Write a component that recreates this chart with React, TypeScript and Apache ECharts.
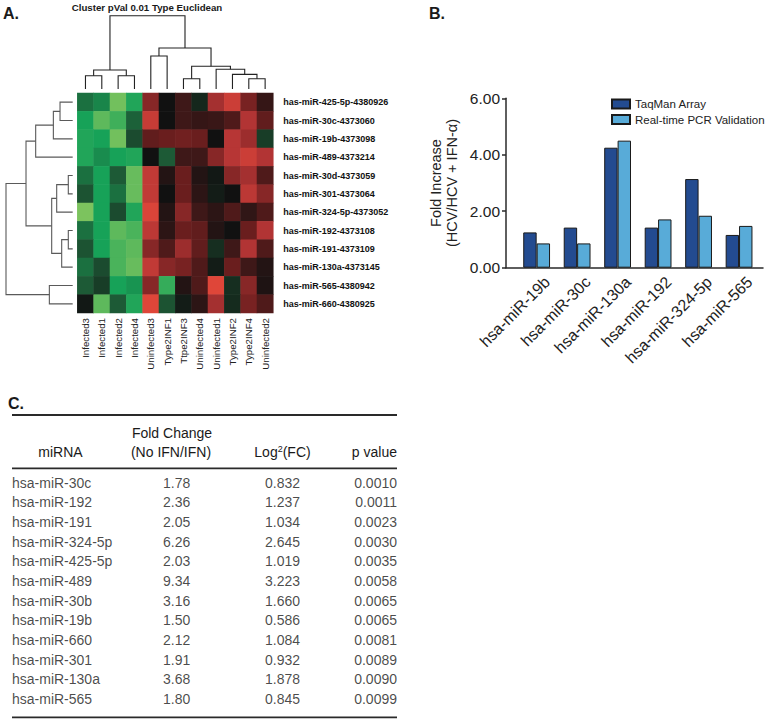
import React, { useEffect, useRef } from 'react';
import * as echarts from 'echarts';

const FONT = '"Liberation Sans", Arial, Helvetica, sans-serif';

// ---------- Panel A: heatmap ----------
const heatCols = ['Infected3', 'Infected1', 'Infected2', 'Infected4', 'Uninfected3', 'Type2INF1', 'Ttpe2INF3', 'Uninfected4', 'Uninfected1', 'Type2INF2', 'Type2INF4', 'Uninfected2'];
const heatRows = ['has-miR-425-5p-4380926', 'has-miR-30c-4373060', 'has-miR-19b-4373098', 'has-miR-489-4373214', 'has-miR-30d-4373059', 'has-miR-301-4373064', 'has-miR-324-5p-4373052', 'has-miR-192-4373108', 'has-miR-191-4373109', 'has-miR-130a-4373145', 'has-miR-565-4380942', 'has-miR-660-4380925'];
const heatValues = [
  [-1.3, -1.6, -2.9, -2.1, 1.4, 0.0, 0.5, -0.3, 1.8, 2.5, 1.2, 0.4],
  [-2.0, -2.7, -2.4, -1.1, 2.4, 0.0, 0.5, 0.4, 0.45, 0.7, 2.0, 0.9],
  [-2.1, -2.0, -2.9, -0.8, 0.9, 1.0, 1.1, 1.0, 0.0, 2.1, 1.7, -0.6],
  [-2.1, -1.7, -2.0, -2.1, 0.0, -1.0, 0.5, 0.5, 1.4, 2.1, 2.5, 2.0],
  [-1.3, -2.0, -1.0, -2.8, 2.3, 0.2, 1.0, 0.2, -0.1, 1.4, 1.8, 0.7],
  [-0.9, -2.0, -1.3, -2.8, 2.3, 0.0, 1.0, 0.3, -0.15, 0.0, 2.2, 1.4],
  [-3.0, -2.0, -0.8, -2.1, 2.8, 0.2, 1.4, 0.5, 0.3, 0.7, 0.35, 0.7],
  [-1.3, -2.0, -2.7, -2.5, 2.2, 0.3, 1.0, 0.9, 0.2, 0.0, 1.0, 2.0],
  [-0.9, -2.0, -2.5, -2.7, 1.4, 0.7, 1.7, 0.9, -0.4, 0.5, 2.0, 0.7],
  [-1.3, -0.8, -2.5, -2.8, 2.3, 1.4, 1.2, 0.7, -0.15, 1.0, 0.5, 0.2],
  [-1.0, -0.6, -2.0, -1.8, 1.4, -2.3, 0.2, 0.7, 2.9, -0.4, 1.4, 0.15],
  [-0.1, -2.7, -1.0, -2.1, 2.9, -0.9, -0.15, 0.3, 1.8, -0.35, 1.2, 0.7],
];
// dendrogram merges: [childA, childB, height]; leaves are 0..11, new nodes 12, 13, ...
const colMerges = [
  [0, 1, 1.8], [2, 3, 1.8], [12, 13, 2.6], [4, 5, 4.5], [6, 7, 1.4], [10, 11, 1.4],
  [9, 17, 2.0], [8, 18, 2.7], [16, 19, 3.1], [15, 20, 5.6], [14, 21, 10],
];
const rowMerges = [
  [0, 1, 1.9], [12, 2, 2.9], [13, 3, 5.55], [4, 5, 0.66], [15, 6, 2.4], [7, 8, 0.66],
  [17, 9, 1.65], [16, 18, 3.15], [14, 19, 7.0], [10, 11, 3.5], [20, 21, 10],
];

// ---------- Panel B: bars ----------
const barCats = ['hsa-miR-19b', 'hsa-miR-30c', 'hsa-miR-130a', 'hsa-miR-192', 'hsa-miR-324-5p', 'hsa-miR-565'];
const taqman = [1.25, 1.42, 4.25, 1.42, 3.14, 1.16];
const pcrValidation = [0.86, 0.86, 4.5, 1.71, 1.84, 1.48];

// ---------- Panel C: table ----------
const tMirna = ['hsa-miR-30c', 'hsa-miR-192', 'hsa-miR-191', 'hsa-miR-324-5p', 'hsa-miR-425-5p', 'hsa-miR-489', 'hsa-miR-30b', 'hsa-miR-19b', 'hsa-miR-660', 'hsa-miR-301', 'hsa-miR-130a', 'hsa-miR-565'];
const tFold = ['1.78', '2.36', '2.05', '6.26', '2.03', '9.34', '3.16', '1.50', '2.12', '1.91', '3.68', '1.80'];
const tLog = ['0.832', '1.237', '1.034', '2.645', '1.019', '3.223', '1.660', '0.586', '1.084', '0.932', '1.878', '0.845'];
const tP = ['0.0010', '0.0011', '0.0023', '0.0030', '0.0035', '0.0058', '0.0065', '0.0065', '0.0081', '0.0089', '0.0090', '0.0099'];

function dendroSegments(merges: number[][], n: number) {
  const pos: number[] = [];
  const h: number[] = [];
  for (let i = 0; i < n; i++) { pos[i] = i; h[i] = 0; }
  return merges.map(([a, b, ht], k) => {
    const id = n + k;
    pos[id] = (pos[a] + pos[b]) / 2;
    h[id] = ht;
    return [pos[a], h[a], pos[b], h[b], ht];
  });
}

const txt = (text: string, x: number, y: number, size: number, opts: any = {}) => ({
  type: 'text',
  x, y,
  silent: true,
  style: {
    text,
    fill: opts.fill || '#1a1a1a',
    font: `${opts.weight || 'normal'} ${size}px ${FONT}`,
    textAlign: opts.align || 'left',
    align: opts.align || 'left',
    textVerticalAlign: 'middle',
    verticalAlign: 'middle',
    rich: opts.rich,
  },
});

const hline = (x1: number, x2: number, y: number, w: number) => ({
  type: 'line',
  silent: true,
  shape: { x1, y1: y, x2, y2: y },
  style: { stroke: '#2a2a2a', lineWidth: w },
});

export default function App() {
  const ref = useRef<HTMLDivElement>(null);
  useEffect(() => {
    if (!ref.current) return;
    const chart = echarts.init(ref.current, undefined, { renderer: 'svg' });

    const colSeg = dendroSegments(colMerges, heatCols.length);
    const rowSeg = dendroSegments(rowMerges, heatRows.length);
    const heatData: number[][] = [];
    heatValues.forEach((row, r) => row.forEach((v, c) => heatData.push([c, r, v])));

    const dendroItem = (swap: boolean, color: string) => (params: any, api: any) => {
      const pa = api.value(0), ha = api.value(1), pb = api.value(2), hb = api.value(3), ht = api.value(4);
      const pts = [[pa, ha], [pa, ht], [pb, ht], [pb, hb]].map((p) => api.coord(swap ? [p[1], p[0]] : p));
      return { type: 'polyline', shape: { points: pts }, style: { stroke: color, lineWidth: 1.1, fill: null } };
    };

    const colAnchors = [0, 0.4278, 0.7026, 1];
    const tableCols = [tMirna, tFold, tLog, tP];
    const tablePos = ['right', 'inside', 'inside', 'left'];

    const option: any = {
      animation: false,
      textStyle: { fontFamily: FONT },
      grid: [
        { left: 77.3, top: 93, width: 196, height: 220 },
        { left: 77.3, top: 15.7, width: 196, height: 73.3 },
        { left: 6, top: 93, width: 66.7, height: 220 },
        { left: 516.4, top: 98.3, width: 242.9, height: 169.4 },
        { left: 506, top: 98.3, width: 257, height: 169.4 },
        { left: 12, top: 472.9, width: 385, height: 236 },
      ],
      xAxis: [
        {
          type: 'category', gridIndex: 0, data: heatCols, position: 'bottom',
          axisLine: { show: false }, axisTick: { show: false }, splitLine: { show: false },
          axisLabel: { rotate: 90, fontSize: 9.7, margin: 5, color: '#222', fontFamily: FONT, interval: 0 },
        },
        { type: 'value', gridIndex: 1, min: -0.5, max: 11.5, show: false },
        { type: 'value', gridIndex: 2, min: 0, max: 10, inverse: true, show: false },
        {
          type: 'category', gridIndex: 3, data: barCats,
          axisLine: { show: false }, axisTick: { show: false },
          axisLabel: {
            rotate: 45, fontSize: 16, margin: 1, color: '#222', fontFamily: FONT, interval: 0,
            verticalAlign: 'top', lineHeight: 30,
          },
        },
        {
          type: 'value', gridIndex: 4, min: 0, max: 1,
          axisLine: { show: true, lineStyle: { color: '#2a2a2a', width: 1.5 } },
          axisTick: { show: false }, axisLabel: { show: false }, splitLine: { show: false },
        },
        { type: 'value', gridIndex: 5, min: 0, max: 1, show: false },
      ],
      yAxis: [
        {
          type: 'category', gridIndex: 0, data: heatRows, inverse: true, position: 'right',
          axisLine: { show: false }, axisTick: { show: false }, splitLine: { show: false },
          axisLabel: { fontSize: 9, fontWeight: 'bold', margin: 10, color: '#111', fontFamily: FONT, interval: 0 },
        },
        { type: 'value', gridIndex: 1, min: 0, max: 10, show: false },
        { type: 'value', gridIndex: 2, min: -0.5, max: 11.5, inverse: true, show: false },
        {
          type: 'value', gridIndex: 3, min: 0, max: 6, interval: 2, offset: 10.4,
          axisLine: { show: true, lineStyle: { color: '#2a2a2a', width: 1.5 } },
          axisTick: { show: true, length: 4, lineStyle: { color: '#2a2a2a', width: 1.5 } },
          splitLine: { show: false },
          axisLabel: { formatter: (v: number) => v.toFixed(2), fontSize: 15.5, color: '#222', margin: 6, fontFamily: FONT },
          name: 'Fold Increase\n(HCV/HCV + IFN-α)', nameLocation: 'middle', nameGap: 46,
          nameTextStyle: { fontSize: 14.5, lineHeight: 16, color: '#222', fontFamily: FONT },
        },
        { type: 'value', gridIndex: 4, min: 0, max: 1, show: false },
        { type: 'category', gridIndex: 5, data: tMirna, inverse: true, show: false },
      ],
      visualMap: {
        show: false, min: -3, max: 3, seriesIndex: 0, dimension: 2,
        inRange: { color: ['#7cc35e', '#17a258', '#1d5a36', '#111111', '#6a1e1e', '#b23434', '#e4483a'] },
      },
      legend: {
        orient: 'vertical', left: 606, top: 93, itemWidth: 18, itemHeight: 9, itemGap: 3.5,
        icon: 'rect',
        textStyle: { fontSize: 11.5, color: '#222', fontFamily: FONT },
        data: ['TaqMan Array', 'Real-time PCR Validation'],
      },
      series: [
        {
          type: 'heatmap', xAxisIndex: 0, yAxisIndex: 0, data: heatData,
          itemStyle: { borderWidth: 0 }, emphasis: { disabled: true },
        },
        {
          type: 'custom', xAxisIndex: 1, yAxisIndex: 1, data: colSeg,
          renderItem: dendroItem(false, '#222'), silent: true,
        },
        {
          type: 'custom', xAxisIndex: 2, yAxisIndex: 2, data: rowSeg,
          renderItem: dendroItem(true, '#5a5a5a'), silent: true,
        },
        {
          name: 'TaqMan Array', type: 'bar', xAxisIndex: 3, yAxisIndex: 3, data: taqman,
          barWidth: 13.4, barGap: '0%',
          itemStyle: { color: '#234b90', borderColor: '#1a1a1a', borderWidth: 1 },
        },
        {
          name: 'Real-time PCR Validation', type: 'bar', xAxisIndex: 3, yAxisIndex: 3, data: pcrValidation,
          barWidth: 13.4, barGap: '0%',
          itemStyle: { color: '#58abd8', borderColor: '#1a1a1a', borderWidth: 1 },
        },
        ...tableCols.map((col, ci) => ({
          type: 'scatter', xAxisIndex: 5, yAxisIndex: 5, symbolSize: 0, silent: true,
          data: col.map((_, i) => [colAnchors[ci], i]),
          itemStyle: { color: 'transparent' },
          label: {
            show: true, position: tablePos[ci], distance: 0,
            formatter: (p: any) => col[p.dataIndex],
            fontSize: 14, color: '#1a1a1a', fontFamily: FONT,
          },
        })),
      ],
      graphic: [
        txt('A.', 3, 13, 16, { weight: 'bold' }),
        txt('B.', 429, 13, 16, { weight: 'bold' }),
        txt('C.', 8, 403, 16, { weight: 'bold' }),
        txt('Cluster pVal 0.01 Type Euclidean', 147, 7, 9.7, { weight: 'bold', align: 'center' }),
        hline(12, 397, 415, 1.8),
        hline(12, 397, 468.3, 1.8),
        hline(12, 397, 717.3, 1.8),
        txt('miRNA', 60.5, 452, 14, { align: 'center' }),
        txt('Fold Change', 172, 433, 14, { align: 'center' }),
        txt('(No IFN/IFN)', 171, 452, 14, { align: 'center' }),
        txt('{a|Log}{s|2}{a|(FC)}', 282.5, 452, 14, {
          align: 'center',
          rich: {
            a: { fontSize: 14, lineHeight: 16, fontFamily: FONT, fill: '#1a1a1a', color: '#1a1a1a' },
            s: { fontSize: 9, lineHeight: 9, verticalAlign: 'top', fontFamily: FONT, fill: '#1a1a1a', color: '#1a1a1a' },
          },
        }),
        txt('p value', 397, 452, 14, { align: 'right' }),
      ],
    };
    chart.setOption(option);
    return () => chart.dispose();
  }, []);
  return <div ref={ref} style={{ position: 'fixed', left: 0, top: 0, width: 766, height: 720, background: '#fff' }} />;
}
